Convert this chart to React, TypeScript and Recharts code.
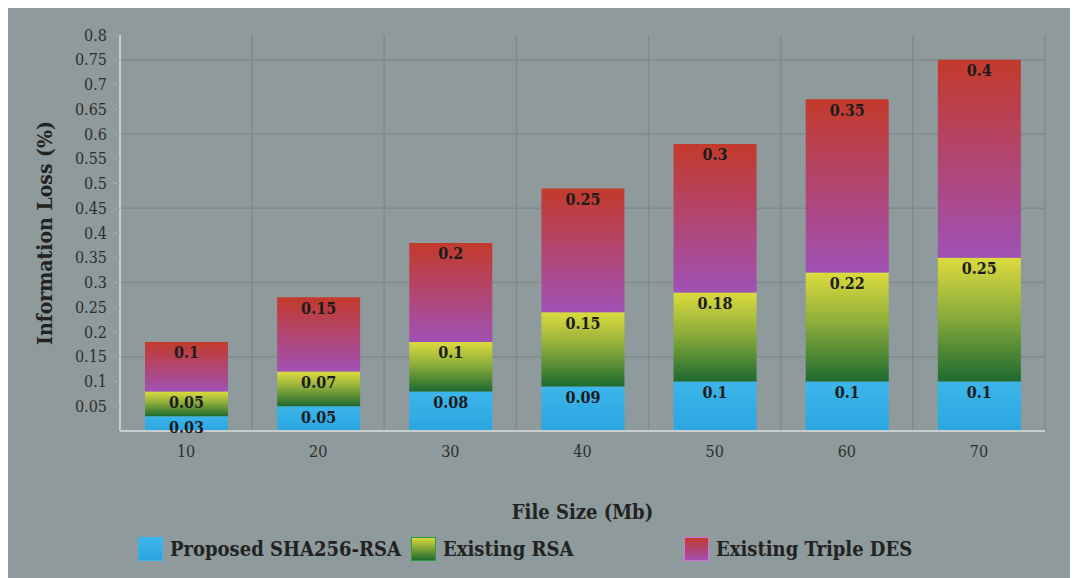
import { Bar, BarChart, CartesianGrid, LabelList, XAxis, YAxis } from 'recharts';

const fileSizes = ['10', '20', '30', '40', '50', '60', '70'];
const sha256Rsa = [0.03, 0.05, 0.08, 0.09, 0.1, 0.1, 0.1];
const rsa = [0.05, 0.07, 0.1, 0.15, 0.18, 0.22, 0.25];
const tripleDes = [0.1, 0.15, 0.2, 0.25, 0.3, 0.35, 0.4];
const yTicks = [0.05, 0.1, 0.15, 0.2, 0.25, 0.3, 0.35, 0.4, 0.45, 0.5, 0.55, 0.6, 0.65, 0.7, 0.75, 0.8];
const gridTicks = [0.15, 0.3, 0.45, 0.6, 0.75];

const data = fileSizes.map((size, i) => ({
  size,
  sha: sha256Rsa[i],
  rsa: rsa[i],
  des: tripleDes[i]
}));

const font = '"DejaVu Serif Condensed", "DejaVu Serif", serif';
const bg = '#8e9a9b';
const yMax = 0.8;

const legendItems = [
  { name: 'Proposed SHA256-RSA', from: '#3cb6ea', to: '#2aa5e0', border: '#3cb6ea' },
  { name: 'Existing RSA', from: '#d9d83c', to: '#1f6b2f', border: '#2f9c3e' },
  { name: 'Existing Triple DES', from: '#c23a2c', to: '#a24fb3', border: '#d673d6' }
];

// grid lines every 0.15 and between the categories, like the original
const hGrid = ({ offset }: any) =>
  gridTicks.map((v) => offset.top + offset.height * (1 - v / yMax));
const vGrid = ({ offset }: any) =>
  fileSizes.map((_, i) => offset.left + ((i + 1) * offset.width) / fileSizes.length);

export default function App() {
  return (
    <div style={{ position: 'relative', width: 1070, height: 570, background: bg, fontFamily: font }}>
      <BarChart
        width={1070}
        height={570}
        data={data}
        margin={{ top: 27, right: 33, left: 0, bottom: 57 }}
        barSize={83}
      >
        <defs>
          <linearGradient id="gSha" x1="0" y1="0" x2="0" y2="1">
            <stop offset="0%" stopColor="#3cb6ea" />
            <stop offset="100%" stopColor="#2aa5e0" />
          </linearGradient>
          <linearGradient id="gRsa" x1="0" y1="0" x2="0" y2="1">
            <stop offset="0%" stopColor="#dcdb3e" />
            <stop offset="45%" stopColor="#8fae3b" />
            <stop offset="100%" stopColor="#1d6a30" />
          </linearGradient>
          <linearGradient id="gDes" x1="0" y1="0" x2="0" y2="1">
            <stop offset="0%" stopColor="#c33a2b" />
            <stop offset="100%" stopColor="#a051b5" />
          </linearGradient>
        </defs>
        <CartesianGrid
          stroke="#7f8b8c"
          strokeWidth={1.5}
          horizontalCoordinatesGenerator={hGrid}
          verticalCoordinatesGenerator={vGrid}
        />
        <XAxis
          dataKey="size"
          height={90}
          tickLine={false}
          tickSize={0}
          tickMargin={15}
          axisLine={{ stroke: '#c8cdcd', strokeWidth: 2 }}
          tick={{ fill: '#2e2e2e', fontSize: 16, fontFamily: font }}
          label={{
            value: 'File Size (Mb)',
            position: 'insideBottom',
            offset: 2,
            style: { fill: '#222', fontSize: 20, fontWeight: 'bold', fontFamily: font }
          }}
        />
        <YAxis
          width={112}
          domain={[0, yMax]}
          ticks={yTicks}
          interval={0}
          tickSize={7}
          tickMargin={6}
          tickLine={{ stroke: '#9fa9a9' }}
          axisLine={{ stroke: '#c8cdcd', strokeWidth: 2 }}
          tick={{ fill: '#2e2e2e', fontSize: 16, fontFamily: font }}
          tickFormatter={(v) => String(v)}
          label={{
            value: 'Information Loss (%)',
            angle: -90,
            position: 'insideLeft',
            offset: 37,
            style: { textAnchor: 'middle', fill: '#222', fontSize: 21, fontWeight: 'bold', fontFamily: font }
          }}
        />
        <Bar dataKey="sha" stackId="a" fill="url(#gSha)" isAnimationActive={false}>
          <LabelList dataKey="sha" position="insideTop" offset={5} fill="#1c1c1c" fontSize={16} fontWeight="bold" fontFamily={font} />
        </Bar>
        <Bar dataKey="rsa" stackId="a" fill="url(#gRsa)" isAnimationActive={false}>
          <LabelList dataKey="rsa" position="insideTop" offset={5} fill="#1c1c1c" fontSize={16} fontWeight="bold" fontFamily={font} />
        </Bar>
        <Bar dataKey="des" stackId="a" fill="url(#gDes)" isAnimationActive={false}>
          <LabelList dataKey="des" position="insideTop" offset={5} fill="#1c1c1c" fontSize={16} fontWeight="bold" fontFamily={font} />
        </Bar>
      </BarChart>
      <div style={{ position: 'absolute', left: 130, top: 529, display: 'flex' }}>
        {legendItems.map((item) => (
          <div key={item.name} style={{ width: 273, display: 'flex', alignItems: 'center' }}>
            <span
              style={{
                width: 23,
                height: 22,
                marginRight: 7,
                border: `1px solid ${item.border}`,
                background: `linear-gradient(${item.from}, ${item.to})`
              }}
            />
            <span style={{ fontSize: 20, fontWeight: 'bold', color: '#222', whiteSpace: 'nowrap' }}>
              {item.name}
            </span>
          </div>
        ))}
      </div>
    </div>
  );
}
